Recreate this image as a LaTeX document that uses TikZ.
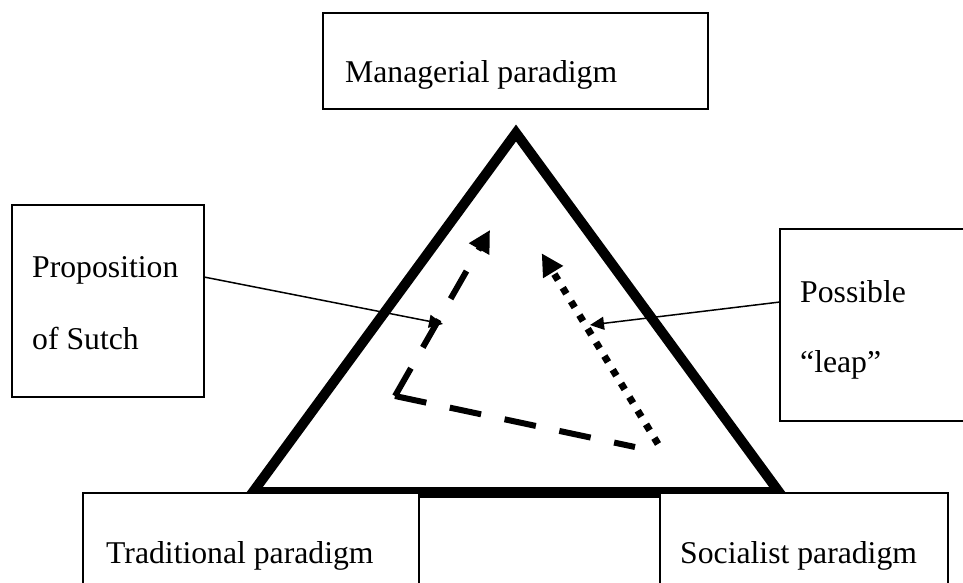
\documentclass[tikz,border=0pt]{standalone}
\usepackage{fontspec}
\setmainfont{Liberation Serif}
\usetikzlibrary{arrows.meta}
\begin{document}
\begin{tikzpicture}[x=1pt,y=-1pt,
  box/.style={draw, line width=1.8pt, fill=white, inner sep=0pt, outer sep=0pt, anchor=north west},
  lbl/.style={anchor=base west, inner sep=0pt, font=\fontsize{31.7}{38}\selectfont},
  ptr/.style={line width=1.5pt, -{Triangle[length=14pt,width=13pt]}},
  bigtip/.style={-{Triangle[length=22pt,width=22pt]}},
  dashline/.style={line width=6pt, dash pattern=on 32pt off 24pt},
  dotline/.style={line width=7pt, dash pattern=on 7pt off 9pt}]
\useasboundingbox (0,0) rectangle (963,583);
% triangle
\coordinate (apex) at (516,133);
\coordinate (bl) at (253,492);
\coordinate (br) at (779,492);
\draw[line width=10pt, line join=miter] (apex) -- (bl) -- (br) -- cycle;
% boxes
\node[box, minimum width=385pt, minimum height=96pt] (man) at (323,13) {};
\node[lbl] (tman) at (345,83) {Managerial paradigm};
\node[box, minimum width=192pt, minimum height=192pt] (prop) at (12,205) {};
\node[lbl] (tp1) at (32,277) {Proposition};
\node[lbl] (tp2) at (32,349) {of Sutch};
\node[box, minimum width=186pt, minimum height=192pt] (poss) at (780,229) {};
\node[lbl] (tq1) at (800,302) {Possible};
\node[lbl] (tq2) at (800,372) {“leap”};
\node[box, minimum width=241pt, minimum height=120pt] (mid) at (419,497.5) {};
\node[box, minimum width=336pt, minimum height=120pt] (trad) at (83,493) {};
\node[box, minimum width=288pt, minimum height=120pt] (soc) at (660,493) {};
\node[lbl] (ttrad) at (106,563) {Traditional paradigm};
\node[lbl] (tsoc) at (680,563) {Socialist paradigm};
% pointers
\coordinate (pa) at (443,324);
\draw[ptr] (prop.east |- tp1.base) -- (pa);
\coordinate (qa) at (590,325);
\draw[ptr] (poss.west |- tq1.base) -- (qa);
% dashed and dotted paths
\coordinate (d0) at (635,447);
\coordinate (d1) at (395,396);
\coordinate (d2) at (490,230);
\draw[dashline] (d1) -- (d0);
\draw[dashline, bigtip] (d1) -- (d2);
\coordinate (e0) at (658,444);
\coordinate (e1) at (541.7,253.3);
\draw[dotline, bigtip] (e0) -- (e1);
\end{tikzpicture}
\end{document}
